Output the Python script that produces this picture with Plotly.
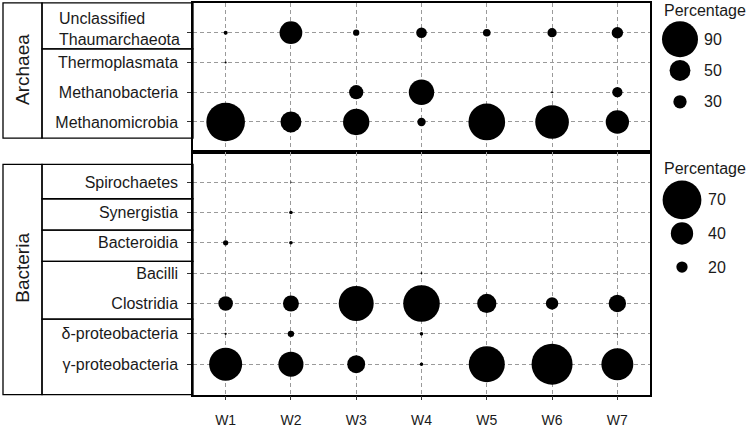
import plotly.graph_objects as go

W, H = 749, 428

samples = ["W1", "W2", "W3", "W4", "W5", "W6", "W7"]

# ---- Archaea (percentage of archaeal reads) ----
archaea_taxa = ["Unclassified Thaumarchaeota", "Thermoplasmata", "Methanobacteria", "Methanomicrobia"]
thaum = [5.4, 55, 11.5, 23, 15, 19.5, 25]
thermo = [0.3, None, None, None, None, None, None]
methanobac = [None, None, 32.5, 62, None, 0.3, 22]
methanomicro = [97, 50, 64.5, 17, 92, 84, 56.5]
archaea_values = [thaum, thermo, methanobac, methanomicro]

# ---- Bacteria (percentage of bacterial reads) ----
bacteria_taxa = ["Spirochaetes", "Synergistia", "Bacteroidia", "Bacilli", "Clostridia",
                 "δ-proteobacteria", "γ-proteobacteria"]
spiro = [None, 1.8, None, None, None, None, None]
synerg = [None, 6, None, 1.8, None, None, None]
bactero = [9, 6, None, None, None, None, None]
bacilli = [None, None, None, 2.7, None, None, None]
clostr = [26, 28.5, 63, 66, 34.5, 22, 31]
delta = [3.6, 11, None, 6, None, None, 1.8]
gamma = [59.5, 45, 32, 6, 65, 74, 57.5]
bacteria_values = [spiro, synerg, bactero, bacilli, clostr, delta, gamma]

archaea_legend = [90, 50, 30]
bacteria_legend = [70, 40, 20]

FONT = "Arial, Liberation Sans, sans-serif"
TXT = "#1a1a1a"


def size_top(v):
    return max(1.2, 1.95 + 0.378 * v)


def size_bot(v):
    return max(1.2, 0.3 + 0.55 * v)


def long_form(taxa, values, fn):
    xs, ys, ss = [], [], []
    for t, row in zip(taxa, values):
        for s, v in zip(samples, row):
            if v is None:
                continue
            xs.append(s)
            ys.append(t)
            ss.append(fn(v))
    return xs, ys, ss


def px_x(x):
    return x / W


def px_y(y):
    return 1 - y / H


fig = go.Figure()

mk = dict(sizemode="diameter", color="black", opacity=1, line=dict(width=0))

ax, ay, asz = long_form(archaea_taxa, archaea_values, size_top)
fig.add_trace(go.Scatter(x=ax, y=ay, mode="markers", xaxis="x", yaxis="y",
                         marker=dict(size=asz, **mk),
                         cliponaxis=False, showlegend=False, hoverinfo="skip"))

bx, by, bsz = long_form(bacteria_taxa, bacteria_values, size_bot)
fig.add_trace(go.Scatter(x=bx, y=by, mode="markers", xaxis="x2", yaxis="y2",
                         marker=dict(size=bsz, **mk),
                         cliponaxis=False, showlegend=False, hoverinfo="skip"))

# legend keys (drawn on hidden helper axes)
leg3_dom = [px_y(120), px_y(24)]
leg4_dom = [px_y(290), px_y(187)]
fig.add_trace(go.Scatter(x=["k"] * 3, y=[str(v) for v in archaea_legend], mode="markers",
                         xaxis="x3", yaxis="y3",
                         marker=dict(size=[size_top(v) for v in archaea_legend], **mk),
                         cliponaxis=False, showlegend=False, hoverinfo="skip"))
fig.add_trace(go.Scatter(x=["k"] * 3, y=[str(v) for v in bacteria_legend], mode="markers",
                         xaxis="x4", yaxis="y4",
                         marker=dict(size=[size_bot(v) for v in bacteria_legend], **mk),
                         cliponaxis=False, showlegend=False, hoverinfo="skip"))

xdom = [px_x(193), px_x(650)]
grid = dict(showgrid=True, gridcolor="#9a9a9a", gridwidth=0.8, griddash="4px,3px",
            showline=True, linecolor="black", linewidth=1.5, mirror=True, zeroline=False)

tick_common = dict(ticks="outside", ticklen=4, tickcolor="#333333", tickwidth=1)

fig.update_layout(
    width=W, height=H, margin=dict(l=0, r=0, t=0, b=0),
    paper_bgcolor="white", plot_bgcolor="white",
    font=dict(family=FONT, color=TXT, size=16),
    xaxis=dict(domain=xdom, anchor="y", type="category", categoryarray=samples,
               range=[-0.5, 6.5], showticklabels=False, ticks="", **grid),
    yaxis=dict(domain=[px_y(155), px_y(3)], anchor="x", type="category",
               categoryarray=archaea_taxa, range=[4, -1],
               tickmode="array", tickvals=archaea_taxa,
               ticktext=[""] + archaea_taxa[1:],
               tickfont=dict(size=16, color=TXT), ticklabelstandoff=6,
               **tick_common, **grid),
    xaxis2=dict(domain=xdom, anchor="y2", type="category", categoryarray=samples,
                range=[-0.5, 6.5], tickfont=dict(size=14, color=TXT),
                ticklabelstandoff=8, **tick_common, **grid),
    yaxis2=dict(domain=[px_y(403), px_y(155)], anchor="x2", type="category",
                categoryarray=bacteria_taxa, range=[7, -1],
                tickfont=dict(size=16, color=TXT), ticklabelstandoff=6,
                **tick_common, **grid),
    xaxis3=dict(domain=[px_x(660), px_x(700)], anchor="y3", type="category",
                range=[-0.5, 0.5], visible=False),
    yaxis3=dict(domain=leg3_dom, anchor="x3", type="category",
                categoryarray=[str(v) for v in archaea_legend], range=[2.5, -0.5],
                visible=False),
    xaxis4=dict(domain=[px_x(662), px_x(702)], anchor="y4", type="category",
                range=[-0.5, 0.5], visible=False),
    yaxis4=dict(domain=leg4_dom, anchor="x4", type="category",
                categoryarray=[str(v) for v in bacteria_legend], range=[2.5, -0.5],
                visible=False),
)

# strip boxes
shapes = []
line = dict(color="black", width=1.3)


def box(x0, x1, y0, y1):
    shapes.append(dict(type="rect", xref="paper", yref="paper",
                       x0=px_x(x0), x1=px_x(x1), y0=px_y(y1), y1=px_y(y0),
                       line=line, fillcolor="rgba(0,0,0,0)", layer="above"))


box(3, 42, 3, 141)
for a, b in [(3, 50), (50, 141)]:
    box(42, 193, a, b)
box(3, 42, 168, 403)
for a, b in [(168, 203), (203, 235), (235, 267), (267, 326), (326, 403)]:
    box(42, 193, a, b)
fig.update_layout(shapes=shapes)

ann = []
ann.append(dict(text="Archaea", textangle=-90, xref="paper", yref="paper",
                x=px_x(22.5), y=px_y(71), xanchor="center", yanchor="middle",
                showarrow=False, font=dict(size=19, color=TXT)))
ann.append(dict(text="Bacteria", textangle=-90, xref="paper", yref="paper",
                x=px_x(22.5), y=px_y(274), xanchor="center", yanchor="middle",
                showarrow=False, font=dict(size=19, color=TXT)))
ann.append(dict(text="Unclassified<br>Thaumarchaeota", xref="paper", yref="y",
                x=px_x(182), y=archaea_taxa[0], xanchor="right", yanchor="middle",
                align="left", yshift=4, showarrow=False, font=dict(size=16, color=TXT)))
ann.append(dict(text="Percentage", xref="paper", yref="paper", x=px_x(662), y=px_y(11),
                xanchor="left", yanchor="middle", showarrow=False,
                font=dict(size=16, color=TXT)))
ann.append(dict(text="Percentage", xref="paper", yref="paper", x=px_x(662), y=px_y(172),
                xanchor="left", yanchor="middle", showarrow=False,
                font=dict(size=16, color=TXT)))


def key_y(dom, i, n=3):
    # paper y of the i-th category on a reversed category axis spanning dom
    return dom[1] - (i + 0.5) / n * (dom[1] - dom[0])


for i, v in enumerate(archaea_legend):
    ann.append(dict(text=str(v), xref="paper", yref="paper", x=px_x(702), y=key_y(leg3_dom, i),
                    xanchor="left", yanchor="middle", showarrow=False,
                    font=dict(size=16, color=TXT)))
for i, v in enumerate(bacteria_legend):
    ann.append(dict(text=str(v), xref="paper", yref="paper", x=px_x(706), y=key_y(leg4_dom, i),
                    xanchor="left", yanchor="middle", showarrow=False,
                    font=dict(size=16, color=TXT)))
fig.update_layout(annotations=ann)

# remove the browser's default 8px body margin so the figure fills the window
fig.write_html("out.html", config={"displayModeBar": False},
               post_script="document.body.style.margin='0';")
